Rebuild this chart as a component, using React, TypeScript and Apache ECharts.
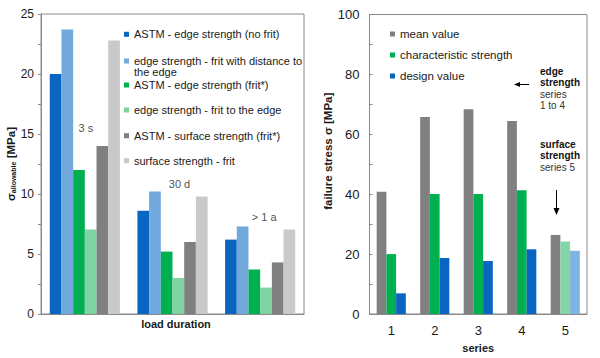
import React, { useEffect, useRef } from 'react';
import * as echarts from 'echarts';

// ---------- data: left chart ----------
const durations = ['3 s', '30 d', '> 1 a'];
const astmEdgeNoFrit = [20, 8.6, 6.2];
const edgeFritDistance = [23.7, 10.2, 7.3];
const astmEdgeFrit = [12, 5.2, 3.7];
const edgeFritToEdge = [7.05, 3.0, 2.2];
const astmSurfaceFrit = [14, 6.0, 4.3];
const surfaceFrit = [22.8, 9.8, 7.05];
const durationLabelLevel = [15.5, 10.8, 8.1];
const leftTickLabels = [0, 5, 10, 15, 20, 25];

// ---------- data: right chart ----------
const seriesIds = ['1', '2', '3', '4', '5'];
const meanValue = [40.8, 65.8, 68.4, 64.4, 26.4];
const characteristicStrength = [20, 40.1, 40.1, 41.3, 24.2];
const designValue = [6.9, 18.7, 17.7, 21.6, 21.1];
const rightTickLabels = [0, 20, 40, 60, 80, 100];

const leftNames = [
  'ASTM - edge strength (no frit)',
  'edge strength - frit with distance to the edge',
  'ASTM - edge strength (frit*)',
  'edge strength - frit to the edge',
  'ASTM - surface strength (frit*)',
  'surface strength - frit',
];
const leftValues = [astmEdgeNoFrit, edgeFritDistance, astmEdgeFrit, edgeFritToEdge, astmSurfaceFrit, surfaceFrit];
const leftColors = ['#0866c2', '#71a9dc', '#00b050', '#7dd3a2', '#808080', '#c9c9c9'];

const rightNames = ['mean value', 'characteristic strength', 'design value'];
const rightValues = [meanValue, characteristicStrength, designValue];
const rightColors = ['#808080', '#00b050', '#0866c2'];
const rightSurfaceColors = ['#808080', '#84d6a6', '#7fb3e0'];

const FONT = '"Liberation Sans", Arial, Helvetica, sans-serif';
const TXT = '#1a1a1a';
const FRAME = '#8a8a8a';

export default function App() {
  const ref = useRef<HTMLDivElement>(null);

  useEffect(() => {
    document.body.style.margin = '0';
    if (!ref.current) return;
    const chart = echarts.init(ref.current, undefined, { renderer: 'svg' });

    const legendRows = [34.3, 61, 85, 110, 135.7, 160.7];
    const longName = leftNames[1];
    const longFirst = 'edge strength - frit with distance to';
    const longRest = longName.slice(longFirst.length + 1);
    const leftLegends = leftNames.map((n, i) => ({
      orient: 'vertical',
      left: 124,
      top: legendRows[i] - 6,
      padding: 0,
      itemWidth: 5,
      itemHeight: 5,
      icon: 'rect',
      selectedMode: false,
      formatter: (name: string) => (name === longName ? longFirst : name),
      textStyle: { fontSize: 11, lineHeight: 12, color: TXT, fontFamily: FONT },
      data: [n],
    }));

    const option: any = {
      animation: false,
      textStyle: { fontFamily: FONT },
      grid: [
        { left: 41, top: 14, width: 263, height: 300, show: true, borderColor: FRAME, borderWidth: 1 },
        { left: 369.5, top: 14.5, width: 217.5, height: 299.5, show: true, borderColor: FRAME, borderWidth: 1 },
      ],
      legend: [
        ...leftLegends,
        {
          orient: 'vertical',
          left: 390,
          top: 27.5,
          padding: 0,
          itemGap: 8,
          itemWidth: 5,
          itemHeight: 5,
          icon: 'rect',
          selectedMode: false,
          textStyle: { fontSize: 11.5, lineHeight: 13, color: TXT, fontFamily: FONT },
          data: rightNames,
        },
      ],
      xAxis: [
        {
          type: 'category',
          gridIndex: 0,
          data: durations,
          axisLine: { show: true, lineStyle: { color: FRAME } },
          axisTick: { show: false },
          axisLabel: { show: false },
          name: 'load duration',
          nameLocation: 'middle',
          nameGap: 4,
          nameTextStyle: { fontWeight: 'bold', fontSize: 11, color: TXT, fontFamily: FONT, padding: [0, 0, 0, 7] },
        },
        {
          type: 'category',
          gridIndex: 1,
          data: seriesIds,
          axisLine: { show: true, lineStyle: { color: FRAME } },
          axisTick: { show: false },
          axisLabel: { fontSize: 13, margin: 10, color: TXT, fontFamily: FONT },
          name: 'series',
          nameLocation: 'middle',
          nameGap: 28,
          nameTextStyle: { fontWeight: 'bold', fontSize: 11, color: TXT, fontFamily: FONT },
        },
      ],
      yAxis: [
        {
          type: 'value',
          gridIndex: 0,
          min: 0,
          max: 25,
          interval: 2.5,
          axisLine: { show: true, lineStyle: { color: FRAME } },
          axisTick: { show: true, inside: false, length: 3, lineStyle: { color: FRAME } },
          axisLabel: {
            fontSize: 12,
            margin: 7,
            color: TXT,
            fontFamily: FONT,
            formatter: (v: number) => (leftTickLabels.includes(v) ? String(v) : ''),
          },
          splitLine: { show: false },
          name: '{s|σ}{sub|allowable} {s|[MPa]}',
          nameLocation: 'middle',
          nameGap: 21,
          nameTextStyle: {
            rich: {
              s: { fontSize: 11.5, fontWeight: 'bold', lineHeight: 14, color: TXT, fontFamily: FONT, verticalAlign: 'bottom' },
              sub: { fontSize: 7, fontWeight: 'bold', lineHeight: 8, color: TXT, fontFamily: FONT, verticalAlign: 'bottom' },
            },
          },
        },
        {
          type: 'value',
          gridIndex: 1,
          min: 0,
          max: 100,
          interval: 10,
          axisLine: { show: true, lineStyle: { color: FRAME } },
          axisTick: { show: true, inside: true, length: 3, lineStyle: { color: FRAME } },
          axisLabel: {
            fontSize: 13,
            margin: 10,
            color: TXT,
            fontFamily: FONT,
            formatter: (v: number) => (rightTickLabels.includes(v) ? String(v) : ''),
          },
          splitLine: { show: false },
          name: 'failure stress σ [MPa]',
          nameLocation: 'middle',
          nameGap: 33,
          nameTextStyle: { fontWeight: 'bold', fontSize: 11.5, color: TXT, fontFamily: FONT, padding: [0, 0, 0, 26] },
        },
      ],
      series: [
        ...leftNames.map((n, i) => ({
          type: 'bar',
          name: n,
          xAxisIndex: 0,
          yAxisIndex: 0,
          data: leftValues[i],
          barGap: '0%',
          barCategoryGap: '20%',
          itemStyle: { color: leftColors[i] },
        })),
        {
          type: 'scatter',
          name: 'durationLabels',
          xAxisIndex: 0,
          yAxisIndex: 0,
          symbolSize: 0,
          silent: true,
          data: durations.map((d, i) => ({
            value: [i, durationLabelLevel[i]],
            label: { offset: [[1, 7, 4][i], 0] },
          })),
          label: {
            show: true,
            position: 'inside',
            formatter: (p: any) => durations[p.dataIndex],
            fontSize: 11,
            color: TXT,
            fontFamily: FONT,
          },
        },
        ...rightNames.map((n, i) => ({
          type: 'bar',
          name: n,
          xAxisIndex: 1,
          yAxisIndex: 1,
          barGap: '0%',
          barCategoryGap: '33%',
          itemStyle: { color: rightColors[i] },
          data: rightValues[i].map((v, j) =>
            j === 4 ? { value: v, itemStyle: { color: rightSurfaceColors[i] } } : v
          ),
        })),
      ],
      graphic: [
        {
          type: 'text',
          left: 134,
          top: 66,
          style: { text: longRest, fontSize: 11, lineHeight: 12, fill: TXT, fontFamily: FONT },
        },
        {
          type: 'text',
          left: 540,
          top: 66,
          style: {
            text: '{b|edge}\n{b|strength}\n{n|series}\n{n|1 to 4}',
            rich: {
              b: { fontSize: 10, fontWeight: 'bold', lineHeight: 11.5, fill: '#111', fontFamily: FONT },
              n: { fontSize: 10, lineHeight: 11.5, fill: '#333', fontFamily: FONT },
            },
          },
        },
        {
          type: 'text',
          left: 540,
          top: 139.3,
          style: {
            text: '{b|surface}\n{b|strength}\n{n|series 5}',
            rich: {
              b: { fontSize: 10, fontWeight: 'bold', lineHeight: 11.5, fill: '#111', fontFamily: FONT },
              n: { fontSize: 10, lineHeight: 11.5, fill: '#333', fontFamily: FONT },
            },
          },
        },
        { type: 'line', shape: { x1: 519, y1: 84.5, x2: 529, y2: 84.5 }, style: { stroke: '#000', lineWidth: 1 } },
        { type: 'polygon', shape: { points: [[514, 84.5], [520, 82], [520, 87]] }, style: { fill: '#000' } },
        { type: 'line', shape: { x1: 556.5, y1: 190, x2: 556.5, y2: 209 }, style: { stroke: '#000', lineWidth: 1 } },
        { type: 'polygon', shape: { points: [[556.5, 215], [553.5, 208], [559.5, 208]] }, style: { fill: '#000' } },
      ],
    };

    chart.setOption(option);
    return () => chart.dispose();
  }, []);

  return (
    <div
      ref={ref}
      style={{ position: 'absolute', left: 0, top: 0, width: 600, height: 358, background: '#fff' }}
    />
  );
}
